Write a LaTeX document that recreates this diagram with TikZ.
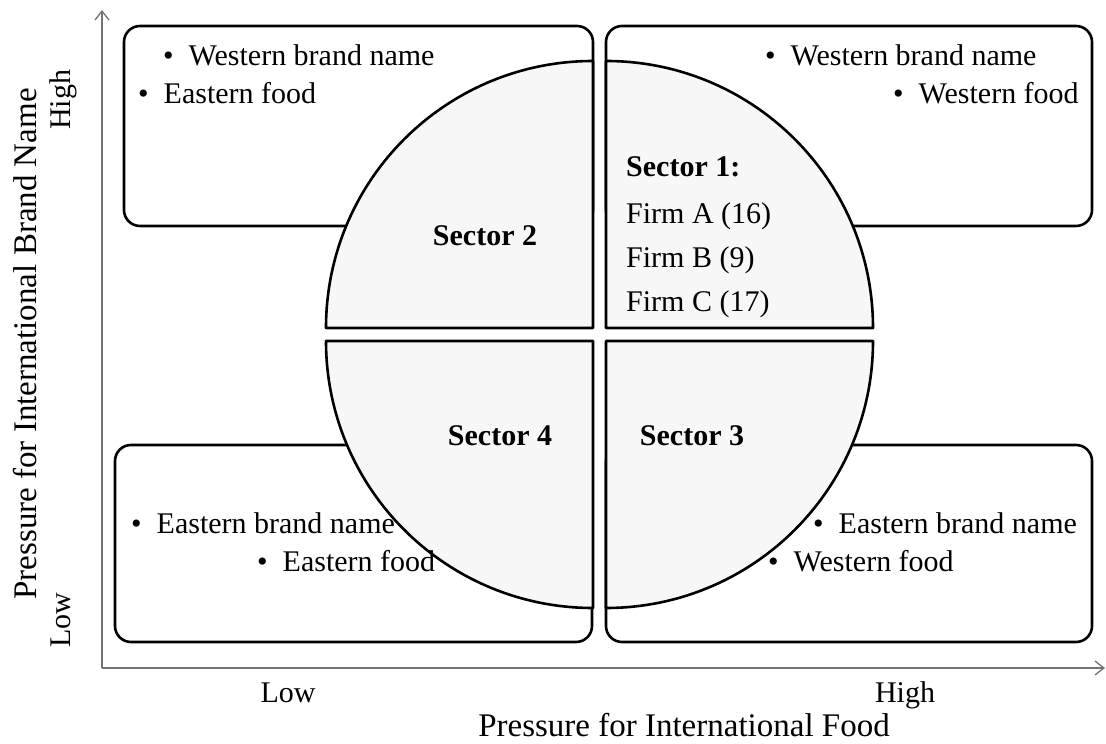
\documentclass[tikz,border=0pt]{standalone}
\usepackage{fontspec}
\setmainfont{Liberation Serif}
\usepackage{xcolor}
\usetikzlibrary{arrows.meta,positioning}
\definecolor{sectorfill}{HTML}{F7F7F7}
\newcommand{\bul}[1]{\textbullet\hspace{0.5em}#1}
\tikzset{
  quad/.style={draw, line width=2.6pt, rounded corners=16pt, fill=white},
  sector/.style={draw, line width=2.6pt, fill=sectorfill, line join=round},
  axis/.style={draw=black!55, line width=1.3pt, -{Straight Barb[length=9pt,width=14pt]}},
  txt/.style={inner sep=0pt, font=\fontsize{30}{36}\selectfont},
  sect/.style={txt, font=\fontsize{30}{36}\selectfont\bfseries},
  title/.style={inner sep=0pt, font=\fontsize{33}{40}\selectfont},
}

\begin{document}
\begin{tikzpicture}[x=1pt,y=1pt]
\useasboundingbox (0,0) rectangle (1106,744);

% axes
\coordinate (origin) at (102,76);
\coordinate (ytip) at (102,734);
\coordinate (xtip) at (1105,76);
\draw[axis] (origin) -- (ytip);
\draw[axis] (origin) -- (xtip);

% the four boxes
\draw[quad] (124,518) rectangle (593,718);
\draw[quad] (606,518) rectangle (1092,718);
\draw[quad] (115,102) rectangle (592,299);
\draw[quad] (606,102) rectangle (1092,299);

% circle cut in four
\draw[sector] (593,416) -- (326,416) arc[start angle=180, end angle=90, radius=267] -- cycle;
\draw[sector] (606,416) -- (873,416) arc[start angle=0, end angle=90, radius=267] -- cycle;
\draw[sector] (593,403) -- (326,403) arc[start angle=180, end angle=270, radius=267] -- cycle;
\draw[sector] (606,403) -- (873,403) arc[start angle=0, end angle=-90, radius=267] -- cycle;

% box texts
\node[txt, anchor=base west] (tl1) at (163,678) {\bul{Western brand name}};
\node[txt, anchor=base west] (tl2) at (138,640) {\bul{Eastern food}};
\node[txt, anchor=base west] (tr1) at (765,678) {\bul{Western brand name}};
\node[txt, anchor=base west] (tr2) at (893,640) {\bul{Western food}};
\node[txt, anchor=base west] (bl1) at (131,210) {\bul{Eastern brand name}};
\node[txt, anchor=base west] (bl2) at (257,172) {\bul{Eastern food}};
\node[txt, anchor=base west] (br1) at (813,210) {\bul{Eastern brand name}};
\node[txt, anchor=base west] (br2) at (768,172) {\bul{Western food}};

% sectors
\node[sect, anchor=base west] (sec1) at (626,567) {Sector 1:};
\node[txt, anchor=base west] (firmA) at (626,520) {Firm A (16)};
\node[txt, anchor=base west] (firmB) at (626,476) {Firm B (9)};
\node[txt, anchor=base west] (firmC) at (626,432) {Firm C (17)};
\node[sect, anchor=base] (sec2) at (485,498) {Sector 2};
\node[sect, anchor=base] (sec4) at (500,298) {Sector 4};
\node[sect, anchor=base] (sec3) at (692,298) {Sector 3};

% axis labels
\node[txt, anchor=base] (xlow) at (288,41) {Low};
\node[txt, anchor=base] (xhigh) at (905,41) {High};
\node[title, anchor=base] (xname) at (684,7) {Pressure for International Food};
\node[txt, anchor=base, rotate=90] (yhigh) at (70,644) {High};
\node[txt, anchor=base, rotate=90] (ylow) at (70,124) {Low};
\node[title, anchor=base, rotate=90] (yname) at (36,400) {Pressure for International Brand Name};
\end{tikzpicture}
\end{document}
